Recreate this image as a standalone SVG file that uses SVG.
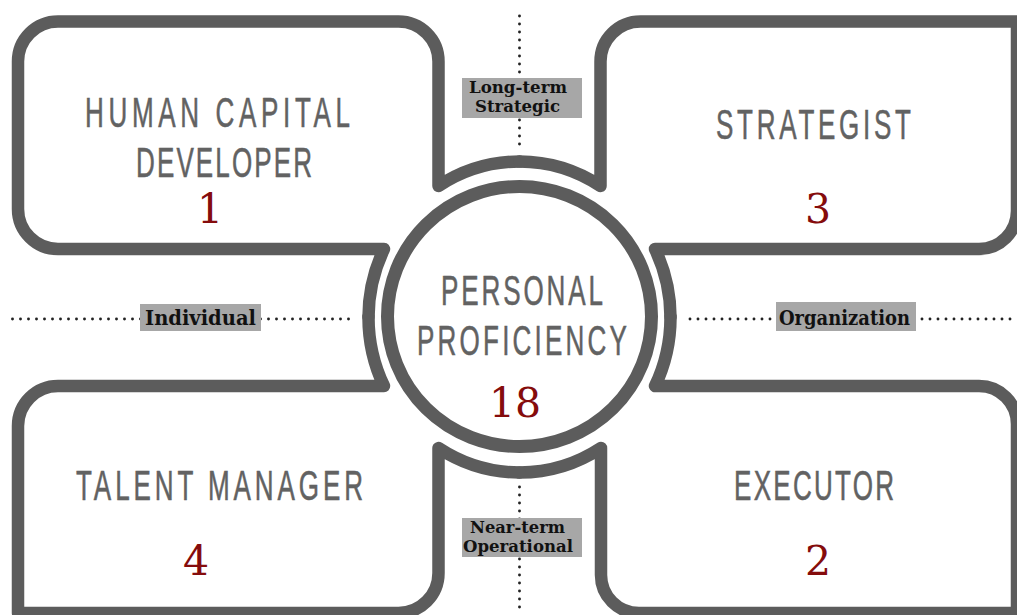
<svg xmlns="http://www.w3.org/2000/svg" width="1017" height="615" viewBox="0 0 1017 615">
<style>
.frame{fill:none;stroke:#5c5c5c;stroke-width:12.5;stroke-linejoin:round;stroke-linecap:round}
.title{font-family:"Liberation Sans","Arial",sans-serif;font-size:42px;fill:#626262;stroke:#626262;stroke-width:0.55;text-anchor:middle}
.num{font-family:"DejaVu Serif","Liberation Serif",serif;font-size:41px;fill:#850c0c;text-anchor:middle}
.dots{fill:none;stroke:#222;stroke-width:2.9;stroke-linecap:round;stroke-dasharray:0 8}
.lblbox{fill:#a7a7a7}
.lbl{font-family:"DejaVu Serif","Liberation Serif",serif;font-weight:bold;font-size:17px;fill:#111;text-anchor:middle}
</style>
<rect width="1017" height="615" fill="#fff"/>
<g id="axes">
<path class="dots" d="M519.5,16 V148"/>
<path class="dots" d="M519.5,487 V615"/>
<path class="dots" d="M12.5,319 H350"/>
<path class="dots" d="M690,319 H1017"/>
<rect class="lblbox" x="462" y="78" width="120" height="40"/>
<text class="lbl" x="518" y="93" textLength="98" lengthAdjust="spacingAndGlyphs">Long-term</text>
<text class="lbl" x="517.5" y="112" textLength="85" lengthAdjust="spacingAndGlyphs">Strategic</text>
<rect class="lblbox" x="462" y="518" width="120" height="39"/>
<text class="lbl" x="517.5" y="532.5" textLength="95" lengthAdjust="spacingAndGlyphs">Near-term</text>
<text class="lbl" x="518" y="552" textLength="110" lengthAdjust="spacingAndGlyphs">Operational</text>
<rect class="lblbox" x="140" y="304" width="121" height="27"/>
<text class="lbl" x="200.5" y="325" textLength="111" lengthAdjust="spacingAndGlyphs" style="font-size:19.5px">Individual</text>
<rect class="lblbox" x="776" y="302" width="140" height="29"/>
<text class="lbl" x="844.5" y="325" textLength="131" lengthAdjust="spacingAndGlyphs" style="font-size:19.5px">Organization</text>
</g>
<g id="human-capital-developer">
<path class="frame" d="M368.5,317 A151 155.5 0 0 1 384,249 L58,249 A40 40 0 0 1 18,209 L18,61.5 A40 40 0 0 1 58,21.5 L398.5,21.5 A40 40 0 0 1 438.5,61.5 L438.5,186 A151 155.5 0 0 1 519.5,161.5"/>
<g transform="translate(217.5,127) scale(0.62,1)"><text class="title" x="0" y="0" textLength="427.4" lengthAdjust="spacing">HUMAN CAPITAL</text></g>
<g transform="translate(224,177) scale(0.62,1)"><text class="title" x="0" y="0" textLength="283.9" lengthAdjust="spacing">DEVELOPER</text></g>
<text class="num" x="210" y="223">1</text>
</g>
<g id="strategist">
<path class="frame" d="M519.5,161.5 A151 155.5 0 0 1 600.5,186 L600.5,61.5 A40 40 0 0 1 640.5,21.5 L1017,21.5 L1017,211 A38 38 0 0 1 979,249 L655,249 A151 155.5 0 0 1 670.5,317"/>
<g transform="translate(813.5,139) scale(0.62,1)"><text class="title" x="0" y="0" textLength="314.5" lengthAdjust="spacing">STRATEGIST</text></g>
<text class="num" x="818" y="223">3</text>
</g>
<g id="executor">
<path class="frame" d="M670.5,317 A151 155.5 0 0 1 655,386 L979,386 A38 38 0 0 1 1017,424 L1017,613 L639,613 A38 38 0 0 1 601,575 L601,448 A151 155.5 0 0 1 519.5,472.5"/>
<g transform="translate(814,500) scale(0.62,1)"><text class="title" x="0" y="0" textLength="258" lengthAdjust="spacing">EXECUTOR</text></g>
<text class="num" x="818" y="575">2</text>
</g>
<g id="talent-manager">
<path class="frame" d="M519.5,472.5 A151 155.5 0 0 1 438.5,448 L438.5,573 A40 40 0 0 1 398.5,613 L18,613 L18,426 A40 40 0 0 1 58,386 L384,386 A151 155.5 0 0 1 368.5,317"/>
<g transform="translate(219.5,500) scale(0.62,1)"><text class="title" x="0" y="0" textLength="462.9" lengthAdjust="spacing">TALENT MANAGER</text></g>
<text class="num" x="196" y="575">4</text>
</g>
<g id="personal-proficiency">
<ellipse cx="519.5" cy="316.5" rx="132" ry="130" fill="#fff" stroke="#5c5c5c" stroke-width="13"/>
<g transform="translate(522,305) scale(0.62,1)"><text class="title" x="0" y="0" textLength="261.3" lengthAdjust="spacing">PERSONAL</text></g>
<g transform="translate(522,355) scale(0.62,1)"><text class="title" x="0" y="0" textLength="338.7" lengthAdjust="spacing">PROFICIENCY</text></g>
<text class="num" x="515" y="417">18</text>
</g>
</svg>
